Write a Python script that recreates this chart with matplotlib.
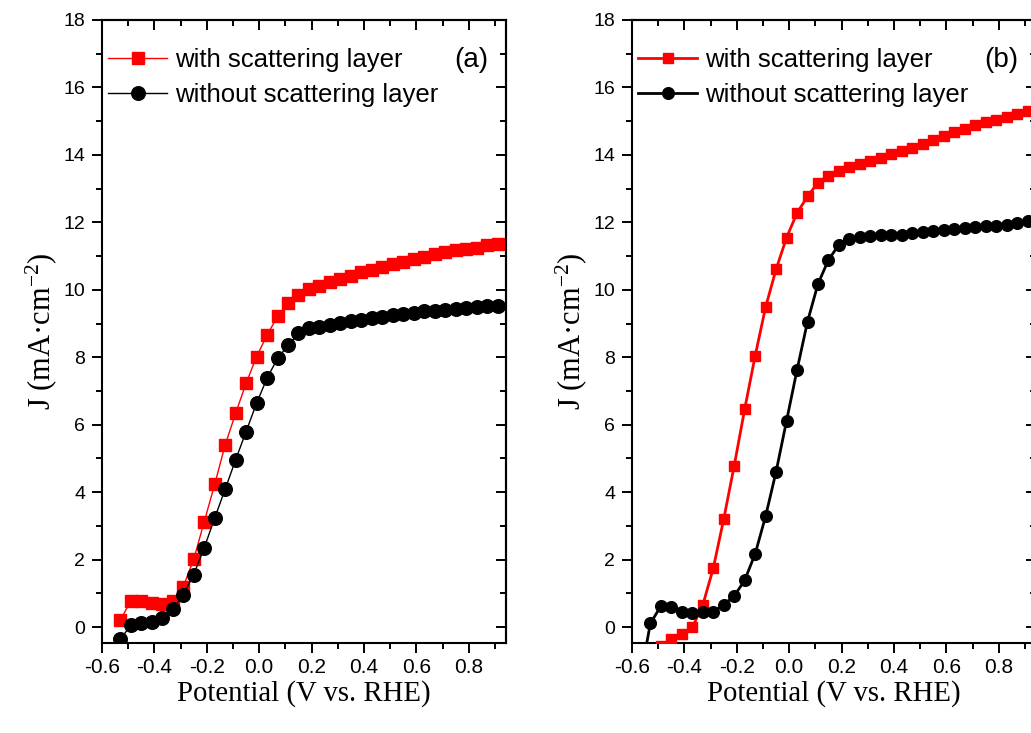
import matplotlib
matplotlib.use('Agg')
import matplotlib.pyplot as plt
from matplotlib.ticker import MultipleLocator
from matplotlib import font_manager

# ---------------- data ----------------
potential = [-0.53, -0.49, -0.45, -0.41, -0.37, -0.33, -0.29, -0.25, -0.21, -0.17,
             -0.13, -0.09, -0.05, -0.01, 0.03, 0.07, 0.11, 0.15, 0.19, 0.23,
             0.27, 0.31, 0.35, 0.39, 0.43, 0.47, 0.51, 0.55, 0.59, 0.63,
             0.67, 0.71, 0.75, 0.79, 0.83, 0.87, 0.91]

a_with = [0.21, 0.78, 0.78, 0.72, 0.70, 0.78, 1.20, 2.01, 3.12, 4.23,
          5.40, 6.34, 7.23, 8.02, 8.66, 9.21, 9.60, 9.85, 10.02, 10.12,
          10.22, 10.32, 10.42, 10.52, 10.60, 10.68, 10.76, 10.83, 10.90, 10.97,
          11.05, 11.12, 11.18, 11.20, 11.25, 11.32, 11.37]
a_without = [-0.36, 0.06, 0.13, 0.16, 0.26, 0.53, 0.95, 1.56, 2.35, 3.23,
             4.09, 4.96, 5.80, 6.64, 7.38, 7.97, 8.35, 8.71, 8.86, 8.91,
             8.96, 9.02, 9.07, 9.12, 9.16, 9.20, 9.24, 9.28, 9.32, 9.36,
             9.38, 9.40, 9.44, 9.47, 9.49, 9.51, 9.53]

b_with = [-0.90, -0.55, -0.36, -0.19, -0.01, 0.65, 1.74, 3.20, 4.78, 6.46,
          8.04, 9.49, 10.61, 11.55, 12.28, 12.77, 13.18, 13.38, 13.52, 13.63,
          13.72, 13.82, 13.92, 14.02, 14.12, 14.22, 14.33, 14.45, 14.57, 14.68,
          14.78, 14.88, 14.97, 15.05, 15.13, 15.22, 15.30]
potential_b_without = [-0.57] + potential
b_without = [-1.60, 0.11, 0.62, 0.60, 0.45, 0.42, 0.44, 0.45, 0.67, 0.92, 1.39,
             2.17, 3.29, 4.61, 6.12, 7.63, 9.06, 10.18, 10.89, 11.34, 11.52,
             11.57, 11.60, 11.62, 11.62, 11.64, 11.68, 11.72, 11.75, 11.78, 11.80,
             11.82, 11.85, 11.88, 11.90, 11.93, 11.98, 12.03]

labels = ["with scattering layer", "without scattering layer"]
panel_tags = ["(a)", "(b)"]
xlabel = "Potential (V vs. RHE)"
ylabel = "J (mA\u00b7cm$^{-2}$)"
xtick_vals = [-0.6, -0.4, -0.2, 0.0, 0.2, 0.4, 0.6, 0.8]
xtick_text = ["-0.6", "-0.4", "-0.2", "0.0", "0.2", "0.4", "0.6", "0.8"]
ytick_vals = [0, 2, 4, 6, 8, 10, 12, 14, 16, 18]

# ---------------- fonts ----------------
names = {f.name for f in font_manager.fontManager.ttflist}
SANS = "Liberation Sans"
NARROW = "Liberation Sans Narrow" if "Liberation Sans Narrow" in names else SANS
SERIF = "Liberation Serif"
plt.rcParams['mathtext.fontset'] = 'custom'
plt.rcParams['mathtext.rm'] = SERIF
plt.rcParams['mathtext.it'] = SERIF + ':italic'
plt.rcParams['mathtext.bf'] = SERIF + ':bold'

fig = plt.figure(figsize=(10.31, 7.33), dpi=100)

W, H = 1031, 733
def frac_box(left_px, right_px, top_px, bottom_px):
    return [left_px / W, 1 - bottom_px / H, (right_px - left_px) / W, (bottom_px - top_px) / H]

panels = [
    dict(box=frac_box(102, 506, 20, 643), xw=potential, yw=a_with,
         xo=potential, yo=a_without, lw=1.0, ms_sq=8.6, ms_c=9.8, tag_x=0.915),
    dict(box=frac_box(632, 1036, 20, 643), xw=potential, yw=b_with,
         xo=potential_b_without, yo=b_without, lw=2.0, ms_sq=7.2, ms_c=8.4, tag_x=0.915),
]

for i, p in enumerate(panels):
    ax = fig.add_axes(p['box'])
    ax.plot(p['xw'], p['yw'], color='#ff0000', lw=p['lw'], marker='s',
            ms=p['ms_sq'], mec='#ff0000', mfc='#ff0000', label=labels[0], zorder=3)
    ax.plot(p['xo'], p['yo'], color='black', lw=p['lw'], marker='o',
            ms=p['ms_c'], mec='black', mfc='black', label=labels[1], zorder=4)
    ax.set_xlim(-0.6, 0.942)
    ax.set_ylim(-0.47, 18.0)

    ax.xaxis.set_minor_locator(MultipleLocator(0.1))
    ax.yaxis.set_minor_locator(MultipleLocator(1))
    ax.set_xticks(xtick_vals)
    ax.set_xticklabels(xtick_text)
    ax.set_yticks(ytick_vals)
    ax.set_yticklabels([str(v) for v in ytick_vals])

    ax.tick_params(which='both', direction='out', width=1.4, top=False, right=False)
    ax.tick_params(which='major', length=7)
    ax.tick_params(which='minor', length=4)
    ax.tick_params(axis='y', labelsize=14, pad=5)
    ax.tick_params(axis='x', labelsize=15, pad=4)
    for lab in ax.get_xticklabels():
        lab.set_fontfamily(NARROW)
    for lab in ax.get_yticklabels():
        lab.set_fontfamily(SANS)
    for s in ax.spines.values():
        s.set_linewidth(1.5)

    # mirrored ticks (inward) on top and right
    top = ax.secondary_xaxis('top')
    top.xaxis.set_major_locator(MultipleLocator(0.2))
    top.xaxis.set_minor_locator(MultipleLocator(0.1))
    top.tick_params(which='both', direction='in', width=1.4, labeltop=False)
    top.tick_params(which='major', length=7)
    top.tick_params(which='minor', length=4)
    top.spines['top'].set_linewidth(1.5)
    right = ax.secondary_yaxis('right')
    right.yaxis.set_major_locator(MultipleLocator(2))
    right.yaxis.set_minor_locator(MultipleLocator(1))
    right.tick_params(which='both', direction='in', width=1.4, labelright=False)
    right.tick_params(which='major', length=7)
    right.tick_params(which='minor', length=4)
    right.spines['right'].set_linewidth(1.5)

    ax.set_xlabel(xlabel, fontfamily=SERIF, fontsize=20.7, labelpad=2)
    ax.set_ylabel(ylabel, fontfamily=SERIF, fontsize=22, labelpad=3)

    leg = ax.legend(loc='upper left', bbox_to_anchor=(0.015, 0.955), frameon=False,
                    prop={'family': SANS, 'size': 18.5}, handlelength=2.3,
                    handletextpad=0.3, labelspacing=0.42, borderpad=0, borderaxespad=0)
    ax.text(p['tag_x'], 0.935, panel_tags[i], transform=ax.transAxes, ha='center',
            va='center', fontfamily=SANS, fontsize=20)

fig.savefig('out.png', dpi=100)
